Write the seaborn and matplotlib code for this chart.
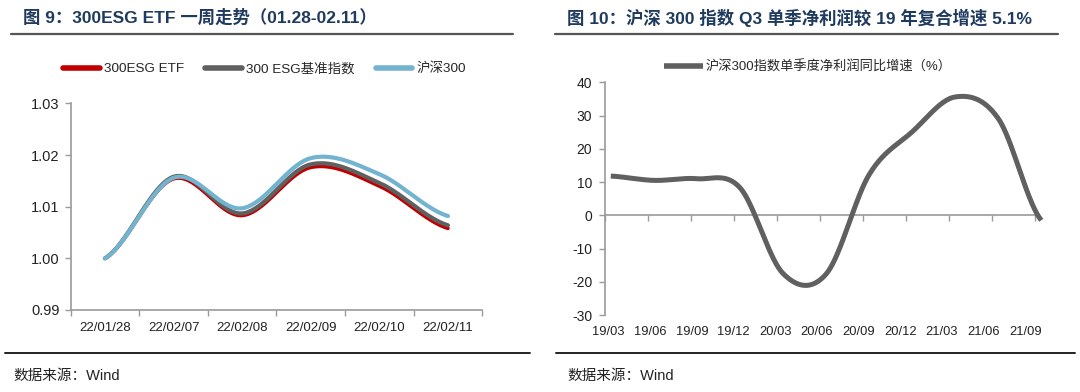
import numpy as np
import pandas as pd
import matplotlib.pyplot as plt
import seaborn as sns
from matplotlib.lines import Line2D

# -----------------------------
# Data
# -----------------------------
left_dates = ["22/01/28", "22/02/07", "22/02/08", "22/02/09", "22/02/10", "22/02/11"]
etf_300esg = [1.0000, 1.0154, 1.0083, 1.0176, 1.0140, 1.0058]
esg_benchmark = [1.0000, 1.0158, 1.0087, 1.0182, 1.0146, 1.0064]
hs300 = [1.0000, 1.0156, 1.0097, 1.0194, 1.0163, 1.0082]
left_names = ["300ESG ETF", "300 ESG基准指数", "沪深300"]

right_quarters = ["19/03", "19/06", "19/09", "19/12", "20/03", "20/06",
                  "20/09", "20/12", "21/03", "21/06", "21/09"]
profit_growth = [11.8, 10.5, 11.0, 8.3, -17.5, -17.7, 12.2, 25.1, 35.6, 29.1, -1.5]
right_name = "沪深300指数单季度净利润同比增速（%）"

title_left = "图 9：300ESG ETF 一周走势（01.28-02.11）"
title_right = "图 10：沪深 300 指数 Q3 单季净利润较 19 年复合增速 5.1%"
source_text = "数据来源：Wind"


def smooth(y, n=40):
    # Excel-style smoothed line (Catmull-Rom as cubic Bezier)
    y = np.asarray(y, dtype=float)
    x = np.arange(len(y), dtype=float)
    xs, ys = [], []
    for i in range(len(y) - 1):
        y0 = y[i - 1] if i > 0 else y[i]
        y3 = y[i + 2] if i + 2 < len(y) else y[i + 1]
        c1 = y[i] + (y[i + 1] - y0) / 6
        c2 = y[i + 1] - (y3 - y[i]) / 6
        t = np.linspace(0, 1, n, endpoint=(i == len(y) - 2))
        ys.append((1 - t) ** 3 * y[i] + 3 * (1 - t) ** 2 * t * c1
                  + 3 * (1 - t) * t ** 2 * c2 + t ** 3 * y[i + 1])
        xs.append(x[i] + t)
    return np.concatenate(xs), np.concatenate(ys)


sns.set_theme(style="white")
plt.rcParams["font.family"] = ["Liberation Sans", "Noto Sans CJK SC"]
plt.rcParams["axes.unicode_minus"] = False

fig = plt.figure(figsize=(10.8, 3.92), dpi=100)
navy = "#1F3A5F"
axis_gray = "#9A9A9A"

# -----------------------------
# Left chart
# -----------------------------
ax1 = fig.add_axes([0.0655, 0.2092, 0.381, 0.527])
left_colors = ["#C00000", "#606060", "#72B4D0"]
left_widths = [2.6, 3.0, 3.0]
for vals, name, col, lw in zip([etf_300esg, esg_benchmark, hs300], left_names,
                               left_colors, left_widths):
    xs, ys = smooth(vals)
    sns.lineplot(x=xs, y=ys, sort=False, color=col, linewidth=lw, label=name,
                 ax=ax1, solid_capstyle="round")

ax1.set_xlim(-0.5, len(left_dates) - 0.5)
ax1.set_ylim(0.99, 1.03)
ax1.set_yticks([0.99, 1.00, 1.01, 1.02, 1.03])
ax1.set_yticklabels(["0.99", "1.00", "1.01", "1.02", "1.03"])
ax1.set_xticks(range(len(left_dates)))
ax1.set_xticklabels(left_dates)
ax1.set_xticks(np.arange(-0.5, len(left_dates)), minor=True)
ax1.tick_params(axis="x", which="major", length=0, pad=9, labelsize=9.5, colors="#222222")
ax1.tick_params(axis="x", which="minor", length=4, width=1, color=axis_gray, direction="out", bottom=True)
ax1.tick_params(axis="y", length=4, width=1, color=axis_gray, direction="out", left=True,
                labelsize=10.5, pad=4, labelcolor="#222222")
for s in ["top", "right"]:
    ax1.spines[s].set_visible(False)
for s in ["left", "bottom"]:
    ax1.spines[s].set_color(axis_gray)
    ax1.spines[s].set_linewidth(1.2)
ax1.set_xlabel("")
ax1.set_ylabel("")
ax1.legend(loc="center", bbox_to_anchor=(0.245, 0.824), bbox_transform=fig.transFigure,
           ncol=3, frameon=False, fontsize=9.7, handlelength=2.7, handletextpad=0.3,
           columnspacing=1.6)
for h in ax1.get_legend().get_lines():
    h.set_linewidth(4)

# -----------------------------
# Right chart
# -----------------------------
ax2 = fig.add_axes([0.560, 0.1964, 0.399, 0.5936])
xs, ys = smooth(profit_growth)
sns.lineplot(x=xs, y=ys, sort=False, color="#606060", linewidth=3.6, label=right_name,
             ax=ax2, clip_on=False, solid_capstyle="butt")
ax2.set_xlim(-0.139, 9.87)
ax2.set_ylim(-30, 40)
ax2.set_yticks(range(-30, 41, 10))
ax2.set_xticks(np.arange(len(right_quarters)) * 0.968 - 0.05)
ax2.set_xticklabels(right_quarters)
ax2.tick_params(axis="x", length=0, pad=8, labelsize=9.3, colors="#222222")
ax2.tick_params(axis="y", length=4, width=1, color=axis_gray, direction="out", left=True,
                labelsize=10, pad=5, labelcolor="#222222")
for s in ["top", "right", "bottom"]:
    ax2.spines[s].set_visible(False)
ax2.spines["left"].set_color(axis_gray)
ax2.spines["left"].set_linewidth(1.2)
ax2.set_xlabel("")
ax2.set_ylabel("")

# zero line with tick marks
zero_axis = ax2.secondary_xaxis(30 / 70)
zero_axis.set_xticks(np.arange(len(right_quarters)) - 0.139)
zero_axis.tick_params(axis="x", length=4, width=1, color=axis_gray, direction="out",
                      labelbottom=False, labeltop=False)
for s in zero_axis.spines.values():
    s.set_color(axis_gray)
    s.set_linewidth(1.2)

ax2.legend(loc="center", bbox_to_anchor=(0.748, 0.829), bbox_transform=fig.transFigure,
           frameon=False, fontsize=9.5, handlelength=3.0, handletextpad=0.2)
for h in ax2.get_legend().get_lines():
    h.set_linewidth(4)

# -----------------------------
# Titles, rules and sources
# -----------------------------
fig.text(0.021, 0.955, title_left, fontsize=12.5, fontweight="bold", color=navy, va="center")
fig.text(0.525, 0.955, title_right, fontsize=12.5, fontweight="bold", color=navy, va="center")
fig.add_artist(Line2D([0.010, 0.475], [0.913, 0.913], color="#555555", lw=1.6))
fig.add_artist(Line2D([0.514, 0.980], [0.913, 0.913], color="#555555", lw=1.6))
fig.add_artist(Line2D([0.005, 0.491], [0.099, 0.099], color="#222222", lw=1.4))
fig.add_artist(Line2D([0.515, 0.995], [0.099, 0.099], color="#222222", lw=1.4))
fig.text(0.012, 0.040, source_text, fontsize=10.5, color="#222222", va="center")
fig.text(0.525, 0.040, source_text, fontsize=10.5, color="#222222", va="center")

fig.savefig("out.png", dpi=100)
